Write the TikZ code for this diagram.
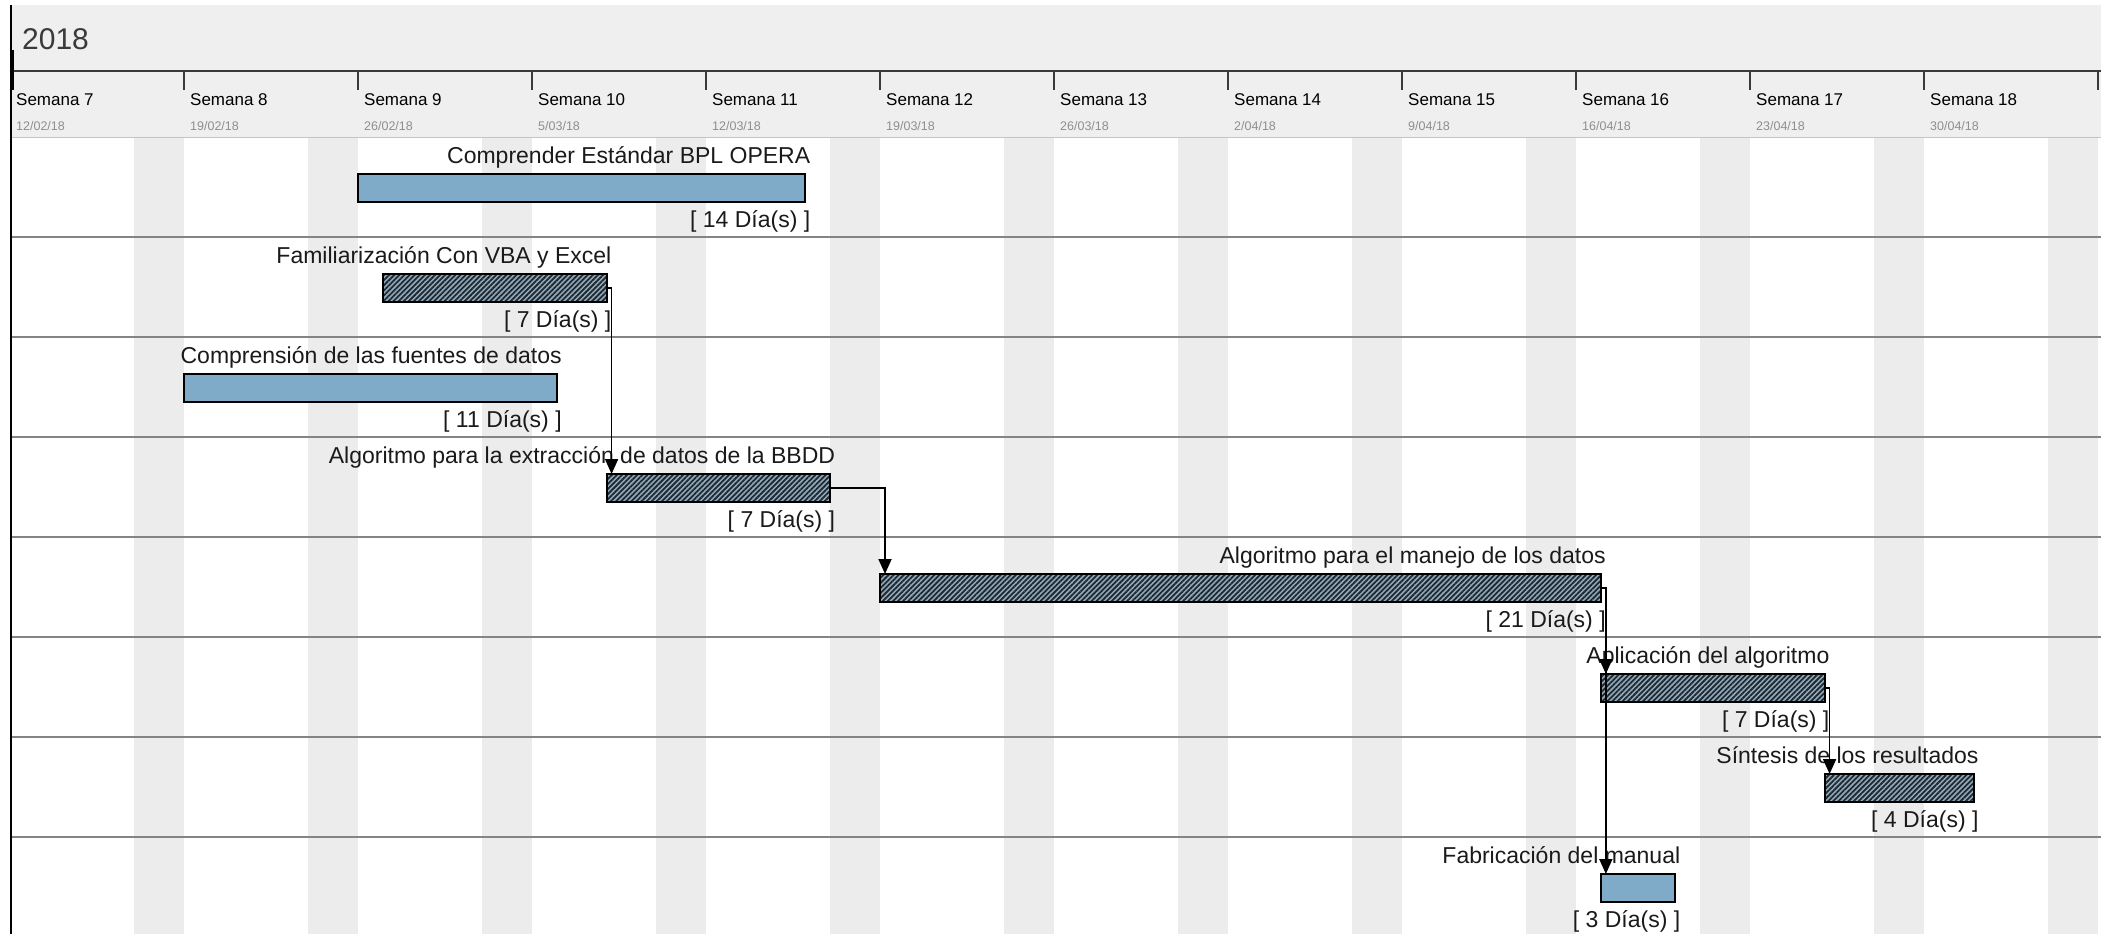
\documentclass[tikz,border=0pt]{standalone}
\usepackage{fontspec}
\setmainfont{Liberation Sans}
\usetikzlibrary{calc,arrows.meta,patterns.meta}

\definecolor{headbg}{HTML}{EFEFEF}
\definecolor{weekend}{HTML}{ECECEC}
\definecolor{rowline}{HTML}{848484}
\definecolor{headline}{HTML}{C4C4C4}
\definecolor{axisink}{HTML}{3A3A3A}
\definecolor{barblue}{HTML}{7FAAC8}
\definecolor{hatchbg}{HTML}{93AABA}
\definecolor{hatchink}{HTML}{1E2830}
\definecolor{datecol}{HTML}{8E8E8E}
\definecolor{labelink}{HTML}{1A1A1A}

\tikzset{
  barbase/.style={rectangle, draw=black, line width=2pt, inner sep=0pt, outer sep=0pt, minimum height=28pt},
  plainbar/.style={barbase, fill=barblue},
  critbar/.style={barbase, preaction={fill=hatchbg},
    pattern={Lines[angle=45,distance=3.6pt,line width=1.8pt]}, pattern color=hatchink},
  tasklabel/.style={anchor=base east, inner sep=0pt, text=labelink, font=\fontsize{23}{27}\selectfont},
  durlabel/.style={tasklabel},
  yearlabel/.style={anchor=base west, inner sep=0pt, text=axisink, font=\fontsize{30}{34}\selectfont},
  weeklabel/.style={anchor=base west, inner sep=0pt, text=black, font=\fontsize{17}{20}\selectfont},
  datelabel/.style={anchor=base west, inner sep=0pt, text=datecol, font=\fontsize{12.5}{15}\selectfont},
  rowsep/.style={draw=rowline, line width=1.8pt},
  axisline/.style={draw=axisink, line width=1.5pt},
  conn/.style={draw=black, line width=1.8pt, -{Triangle[width=13pt,length=15pt]}}
}

% one task: name, row, first day, day after the last, style, title, working days
% (days are counted from Monday 12/02/18; one week spans 174pt)
\newcommand\ganttbar[7]{%
  \pgfmathsetmacro\gxa{10+#3*174/7}%
  \pgfmathsetmacro\gxb{10+#4*174/7}%
  \pgfmathsetmacro\gbw{(#4-#3)*174/7}%
  \pgfmathsetmacro\gty{137+100*#2}%
  \node[#5, minimum width=\gbw pt, anchor=north west] (#1) at (\gxa,\gty+37) {};
  \node[tasklabel] (#1-name) at (\gxb+5,\gty+26) {#6};
  \node[durlabel] (#1-days) at (\gxb+5,\gty+90) {[ #7 Día(s) ]};
}

\begin{document}
\begin{tikzpicture}[x=1pt,y=-1pt]
\useasboundingbox (0,0) rectangle (2107,934);
\fill[white] (0,0) rectangle (2107,934);

% timeline header band
\fill[headbg] (10,5) rectangle (2101,137);

% weekend columns
\foreach \w in {0,...,11}
  \fill[weekend] ({10+174*\w+124.3},137) rectangle ({min(10+174*\w+174,2101)},934);

% row separators
\foreach \r in {1,...,7}
  \draw[rowsep] (10,137+100*\r) -- (2101,137+100*\r);

% header rule and week ticks
\draw[axisline] (10,71) -- (2101,71);
\foreach \w in {1,...,12}
  \draw[axisline] ({10+174*\w},71) -- ({10+174*\w},90);
\draw[draw=headline, line width=1pt] (10,137) -- (2101,137);

% left border
\draw[line width=2pt] (10.5,5) -- (10.5,934);
\draw[line width=4pt] (11.5,50) -- (11.5,90);

\node[yearlabel] (year) at (22,49) {2018};

\foreach \k/\dd/\mm [count=\w from 0] in {7/12/02, 8/19/02, 9/26/02, 10/5/03, 11/12/03, 12/19/03, 13/26/03, 14/2/04, 15/9/04, 16/16/04, 17/23/04, 18/30/04} {
  \node[weeklabel] (wk\k) at ({16+174*\w},106) {Semana \k};
  \node[datelabel] (dt\k) at ({16+174*\w},130) {\dd/\mm/18};
}

% tasks
\ganttbar{b1}{0}{14}{32}{plainbar}{Comprender Estándar BPL OPERA}{14}
\ganttbar{b2}{1}{15}{24}{critbar}{Familiarización Con VBA y Excel}{7}
\ganttbar{b3}{2}{7}{22}{plainbar}{Comprensión de las fuentes de datos}{11}
\ganttbar{b4}{3}{24}{33}{critbar}{Algoritmo para la extracción de datos de la BBDD}{7}
\ganttbar{b5}{4}{35}{64}{critbar}{Algoritmo para el manejo de los datos}{21}
\ganttbar{b6}{5}{64}{73}{critbar}{Aplicación del algoritmo}{7}
\ganttbar{b7}{6}{73}{79}{critbar}{Síntesis de los resultados}{4}
\ganttbar{b8}{7}{64}{67}{plainbar}{Fabricación del manual}{3}

% dependencies
\draw[conn] (b2.east) -| ($(b4.north west)+(5,0)$);
\draw[conn] (b4.east) -| ($(b5.north west)+(5,0)$);
\draw[conn] (b5.east) -| ($(b6.north west)+(5,0)$);
\draw[conn] (b5.east) -| ($(b8.north west)+(5,0)$);
\draw[conn] (b6.east) -| ($(b7.north west)+(5,0)$);
\end{tikzpicture}
\end{document}
